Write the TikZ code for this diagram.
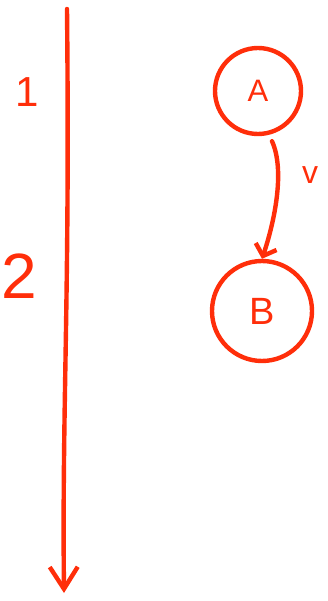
\documentclass[tikz,border=0pt]{standalone}
\usepackage{fontspec}
\setmainfont{Liberation Sans}
\usepackage{tikz}
\usetikzlibrary{arrows.meta,positioning}
\definecolor{skred}{HTML}{FF2E0A}
\tikzset{
  skline/.style={draw=skred,line width=4.4pt,line cap=round,line join=round},
  skstate/.style={circle,skline,inner sep=0pt,text=skred},
  sklabel/.style={text=skred,inner sep=0pt},
  skflow/.style={skline,-{Straight Barb[length=10pt,width=22pt,line width=4.4pt]}}
}
\begin{document}
\begin{tikzpicture}[x=1pt,y=-1pt]
    \useasboundingbox (0,0) rectangle (328,601);
    % time axis
    \coordinate (ttop) at (67,9);
    \coordinate (tbot) at (64,593);
    \draw[skflow,-{Straight Barb[length=22pt,width=28pt,line width=4.4pt]}] (ttop) .. controls (70,300) and (62,400) .. (tbot);
    \node[sklabel,font=\fontsize{42}{42}\selectfont] (one) at (27,92) {1};
    \node[sklabel,font=\fontsize{64}{64}\selectfont] (two) at (19,276) {2};
    % states
    \node[skstate,minimum size=86pt,font=\fontsize{31}{31}\selectfont] (nodeA) at (258,91) {A};
    \node[skstate,minimum size=100pt,font=\fontsize{38}{38}\selectfont] (nodeB) at (262,311) {B};
    \draw[skflow] (nodeA.south) ++(14,5) .. controls (285,170) and (275,220) .. (nodeB.north);
    \node[sklabel,font=\fontsize{32}{32}\selectfont] (vel) at (310,175) {v};
  \end{tikzpicture}
\end{document}
